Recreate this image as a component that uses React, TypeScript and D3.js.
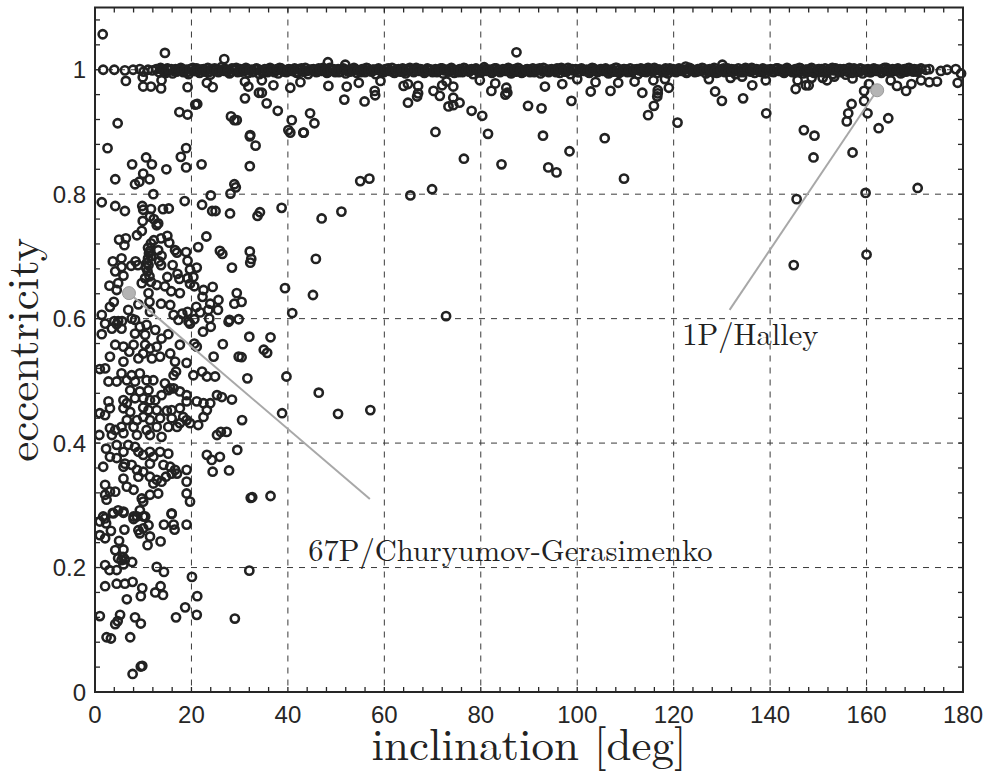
import React from "react";
import * as d3 from "d3";

const W = 990;
const H = 773;

const xTickValues = [0, 20, 40, 60, 80, 100, 120, 140, 160, 180];
const xTickLabels = ["0", "20", "40", "60", "80", "100", "120", "140", "160", "180"];
const yTickValues = [0, 0.2, 0.4, 0.6, 0.8, 1];
const yTickLabels = ["0", "0.2", "0.4", "0.6", "0.8", "1"];

// near-parabolic comets (band at e ~ 1)
const nearParabolic: [number, number][] = [
  [1.7,1.0],[4.0,1.0],[6.2,0.999],[7.9,1.0],[9.3,1.001],[10.1,0.997],[11.0,1.0],[11.9,0.999],[12.7,1.001],[13.3,0.996],
  [13.9,1.0],[14.4,0.997],[15.0,1.002],[15.5,0.999],[16.1,0.994],[16.7,1.001],[17.2,0.998],[17.8,1.003],[18.3,0.996],[18.9,1.0],
  [19.4,0.993],[20.0,1.001],[20.6,0.998],[21.1,1.002],[21.7,0.995],[22.3,1.0],[22.8,0.997],[23.4,1.003],[23.9,0.992],[24.5,0.999],
  [25.1,1.001],[25.6,0.996],[26.2,1.004],[26.8,0.998],[27.3,1.0],[27.9,0.994],[28.4,1.002],[29.0,0.999],[29.6,0.996],[30.1,1.001],
  [30.7,0.998],[31.3,1.003],[31.8,0.995],[32.4,1.0],[32.9,0.997],[33.5,1.002],[34.1,0.993],[34.6,0.999],[35.2,1.001],[35.8,0.996],
  [36.3,1.003],[36.9,0.998],[37.4,1.0],[38.0,0.994],[38.6,1.002],[39.1,0.999],[39.7,0.996],[40.2,1.001],[40.8,0.998],[41.4,1.002],
  [41.9,0.995],[42.5,1.0],[43.1,0.997],[43.6,1.003],[44.2,0.993],[44.7,0.999],[45.3,1.001],[45.9,0.996],[46.4,1.002],[47.0,0.998],
  [47.5,1.0],[48.1,0.995],[48.7,1.003],[49.2,0.999],[49.8,0.996],[50.4,1.001],[50.9,0.997],[51.5,1.002],[52.0,0.994],[52.6,1.0],
  [53.2,0.998],[53.7,1.003],[54.3,0.995],[54.8,0.999],[55.4,1.001],[56.0,0.996],[56.5,1.002],[57.1,0.998],[57.6,1.0],[58.2,0.993],
  [58.8,1.002],[59.3,0.999],[59.9,0.996],[60.5,1.001],[61.0,0.998],[61.6,1.003],[62.1,0.995],[62.7,1.0],[63.3,0.997],[63.8,1.002],
  [64.4,0.994],[64.9,0.999],[65.5,1.001],[66.1,0.996],[66.6,1.003],[67.2,0.998],[67.7,1.0],[68.3,0.995],[68.9,1.002],[69.4,0.999],
  [70.0,0.996],[70.6,1.001],[71.1,0.998],[71.7,1.002],[72.2,0.994],[72.8,1.0],[73.4,0.997],[73.9,1.003],[74.5,0.995],[75.0,0.999],
  [75.6,1.001],[76.2,0.996],[76.7,1.002],[77.3,0.998],[77.8,1.0],[78.4,0.993],[79.0,1.002],[79.5,0.999],[80.1,0.996],[80.7,1.004],
  [81.2,0.998],[81.8,1.0],[82.3,0.995],[82.9,1.002],[83.5,0.999],[84.0,0.996],[84.6,1.001],[85.1,0.998],[85.7,1.003],[86.3,0.994],
  [86.8,1.0],[87.4,0.997],[87.9,1.002],[88.5,0.995],[89.1,0.999],[89.6,1.001],[90.2,0.996],[90.8,1.002],[91.3,0.998],[91.9,1.0],
  [92.4,0.994],[93.0,1.003],[93.6,0.999],[94.1,0.996],[94.7,1.001],[95.2,0.998],[95.8,1.002],[96.4,0.995],[96.9,1.0],[97.5,0.997],
  [98.1,1.003],[98.6,0.993],[99.2,0.999],[99.7,1.001],[100.3,0.996],[100.9,1.002],[101.4,0.998],[102.0,1.0],[102.5,0.995],[103.1,1.003],
  [103.7,0.999],[104.2,0.996],[104.8,1.001],[105.3,0.998],[105.9,1.002],[106.5,0.994],[107.0,1.0],[107.6,0.997],[108.2,1.003],[108.7,0.995],
  [109.3,0.999],[109.8,1.001],[110.4,0.996],[111.0,1.002],[111.5,0.998],[112.1,1.0],[112.6,0.993],[113.2,1.002],[113.8,0.999],[114.3,0.996],
  [114.9,1.001],[115.4,0.998],[116.0,1.003],[116.6,0.995],[117.1,1.0],[117.7,0.997],[118.3,1.002],[118.8,0.994],[119.4,0.999],[119.9,1.001],
  [120.5,0.996],[121.1,1.002],[121.6,0.998],[122.2,1.0],[122.7,0.995],[123.3,1.003],[123.9,0.999],[124.4,0.996],[125.0,1.001],[125.5,0.998],
  [126.1,1.002],[126.7,0.994],[127.2,1.0],[127.8,0.997],[128.4,1.003],[128.9,0.995],[129.5,0.999],[130.0,1.001],[130.6,0.996],[131.2,1.002],
  [131.7,0.998],[132.3,1.0],[132.8,0.993],[133.4,1.002],[134.0,0.999],[134.5,0.996],[135.1,1.001],[135.6,0.998],[136.2,1.003],[136.8,0.995],
  [137.3,1.0],[137.9,0.997],[138.5,1.002],[139.0,0.994],[139.6,0.999],[140.1,1.001],[140.7,0.996],[141.3,1.002],[141.8,0.998],[142.4,1.0],
  [142.9,0.995],[143.5,1.003],[144.1,0.999],[144.6,0.996],[145.2,1.001],[145.7,0.998],[146.3,1.002],[146.9,0.994],[147.4,1.0],[148.0,0.997],
  [148.6,1.003],[149.1,0.995],[149.7,0.999],[150.2,1.001],[150.8,0.996],[151.4,1.002],[151.9,0.998],[152.5,1.0],[153.0,0.993],[153.6,1.002],
  [154.2,0.999],[154.7,0.996],[155.3,1.001],[155.8,0.998],[156.4,1.003],[157.0,0.995],[157.5,1.0],[158.1,0.997],[158.7,1.002],[159.2,0.994],
  [159.8,0.999],[160.3,1.001],[160.9,0.996],[161.5,1.002],[162.0,0.998],[162.6,1.0],[163.1,0.995],[163.7,1.003],[164.3,0.999],[164.8,0.996],
  [165.4,1.001],[165.9,0.998],[166.5,1.002],[167.1,0.994],[167.6,1.0],[168.2,0.997],[168.8,1.003],[169.3,0.999],[169.9,1.001],[170.5,0.997],
  [171.3,1.002],[172.3,1.0],[173.0,1.001],[175.4,0.998],[176.7,1.0],[178.5,1.001],[179.6,0.994],
];

// more near-parabolic comets filling the band
const nearParabolicDense: [number, number][] = [
  [13.6,1.003],[14.7,0.995],[15.8,1.001],[16.9,0.997],[18.0,1.0],[19.1,0.996],[20.3,1.003],[21.4,0.998],[22.5,1.001],[23.6,0.996],
  [24.8,1.002],[25.9,0.998],[27.0,1.001],[28.1,0.996],[29.3,1.003],[30.4,0.997],[31.5,1.0],[32.7,0.996],[33.8,1.001],[34.9,0.997],
  [36.0,1.0],[37.2,0.996],[38.3,1.003],[39.4,0.997],[40.5,1.0],[41.6,0.996],[42.8,1.002],[43.9,0.998],[45.0,1.0],[46.1,0.997],
  [47.3,1.003],[48.4,0.997],[49.5,1.001],[50.6,0.996],[51.8,1.0],[52.9,0.997],[54.0,1.001],[55.1,0.996],[56.3,1.003],[57.4,0.997],
  [58.5,1.0],[59.6,0.997],[60.8,1.002],[61.9,0.996],[63.0,1.001],[64.1,0.997],[65.3,1.003],[66.4,0.998],[67.5,1.001],[68.6,0.997],
  [69.7,1.0],[70.9,0.996],[72.0,1.002],[73.1,0.998],[74.2,1.0],[75.4,0.996],[76.5,1.003],[77.6,0.997],[78.7,1.0],[79.9,0.996],
  [81.0,1.001],[82.1,0.997],[83.2,1.002],[84.4,0.998],[85.5,1.0],[86.6,0.996],[87.7,1.003],[88.9,0.997],[90.0,1.0],[91.1,0.996],
  [92.2,1.002],[93.3,0.998],[94.5,1.0],[95.6,0.996],[96.7,1.003],[97.8,0.997],[99.0,1.001],[100.1,0.996],[101.2,1.0],[102.3,0.997],
  [103.4,1.002],[104.6,0.998],[105.7,1.0],[106.8,0.996],[107.9,1.003],[109.1,0.997],[110.2,1.0],[111.3,0.996],[112.4,1.001],[113.6,0.997],
  [114.7,1.003],[115.8,0.998],[116.9,1.0],[118.1,0.996],[119.2,1.002],[120.3,0.997],[121.4,1.0],[122.5,0.996],[123.7,1.001],[124.8,0.997],
  [125.9,1.003],[127.0,0.998],[128.2,1.0],[129.3,0.996],[130.4,1.002],[131.5,0.997],[132.7,1.0],[133.8,0.996],[134.9,1.003],[136.0,0.997],
  [137.2,1.001],[138.3,0.996],[139.4,1.0],[140.5,0.997],[141.6,1.002],[142.8,0.998],[143.9,1.0],[145.0,0.996],[146.1,1.003],[147.3,0.997],
  [148.4,1.0],[149.5,0.996],[150.6,1.001],[151.8,0.997],[152.9,1.003],[154.0,0.998],[155.1,1.0],[156.3,0.996],[157.4,1.002],[158.5,0.997],
  [159.6,1.0],[160.7,0.996],[161.9,1.001],[163.0,0.997],[164.1,1.003],[165.2,0.998],[166.4,1.0],[167.5,0.996],[168.6,1.002],[169.7,0.997],
  [170.8,1.0],
];

// still more near-parabolic comets in the band
const nearParabolicFill: [number, number][] = [
  [14.2,0.999],[15.3,1.001],[16.4,0.998],[17.5,1.0],[18.6,0.999],[19.7,1.001],[20.8,0.998],[21.9,1.0],[23.1,0.999],[24.2,1.001],
  [25.3,0.998],[26.5,1.0],[27.6,0.999],[28.7,1.001],[29.9,0.998],[31.0,1.0],[32.1,0.999],[33.2,1.001],[34.4,0.998],[35.5,1.0],
  [36.6,0.999],[37.8,1.001],[38.9,0.998],[40.0,1.0],[41.1,0.999],[42.2,1.001],[43.3,0.998],[44.5,1.0],[45.6,0.999],[46.7,1.001],
  [47.8,0.998],[49.0,1.0],[50.1,0.999],[51.2,1.001],[52.3,0.998],[53.5,1.0],[54.6,0.999],[55.7,1.001],[56.8,0.998],[57.9,1.0],
  [59.1,0.999],[60.2,1.001],[61.3,0.998],[62.4,1.0],[63.6,0.999],[64.7,1.001],[65.8,0.998],[66.9,1.0],[68.0,0.999],[69.2,1.001],
  [70.3,0.998],[71.4,1.0],[72.5,0.999],[73.7,1.001],[74.8,0.998],[75.9,1.0],[77.0,0.999],[78.1,1.001],[79.3,0.998],[80.4,1.0],
  [81.5,0.999],[82.6,1.001],[83.8,0.998],[84.9,1.0],[86.0,0.999],[87.1,1.001],[88.2,0.998],[89.4,1.0],[90.5,0.999],[91.6,1.001],
  [92.7,0.998],[93.9,1.0],[95.0,0.999],[96.1,1.001],[97.2,0.998],[98.3,1.0],[99.5,0.999],[100.6,1.001],[101.7,0.998],[102.8,1.0],
  [104.0,0.999],[105.1,1.001],[106.2,0.998],[107.3,1.0],[108.4,0.999],[109.6,1.001],[110.7,0.998],[111.8,1.0],[112.9,0.999],[114.1,1.001],
  [115.2,0.998],[116.3,1.0],[117.4,0.999],[118.5,1.001],[119.7,0.998],[120.8,1.0],[121.9,0.999],[123.0,1.001],[124.2,0.998],[125.3,1.0],
  [126.4,0.999],[127.5,1.001],[128.6,0.998],[129.8,1.0],[130.9,0.999],[132.0,1.001],[133.1,0.998],[134.3,1.0],[135.4,0.999],[136.5,1.001],
  [137.6,0.998],[138.7,1.0],[139.9,0.999],[141.0,1.001],[142.1,0.998],[143.2,1.0],[144.4,0.999],[145.5,1.001],[146.6,0.998],[147.7,1.0],
  [148.8,0.999],[150.0,1.001],[151.1,0.998],[152.2,1.0],[153.3,0.999],[154.5,1.001],[155.6,0.998],[156.7,1.0],[157.8,0.999],[158.9,1.001],
  [160.1,0.998],[161.2,1.0],[162.3,0.999],[163.4,1.001],[164.6,0.998],[165.7,1.0],[166.8,0.999],[167.9,1.001],[169.0,0.998],[170.2,1.0],
];

// high-eccentricity comets hanging below / above the band
const highEccentricity: [number, number][] = [
  [1.6,1.057],[14.5,1.027],[26.8,1.017],[48.3,1.012],[51.9,1.008],[87.4,1.028],[130.1,1.008],[122.5,1.005],
  [6.4,0.982],[10.0,0.973],[11.6,0.973],[9.9,0.988],[13.7,0.970],[13.8,0.983],[19.2,0.972],[23.2,0.979],[24.4,0.972],
  [20.8,0.944],[21.2,0.945],[17.5,0.932],[19.2,0.928],[4.7,0.914],[28.2,0.925],[28.9,0.919],
  [2.6,0.874],[18.9,0.874],[17.8,0.860],[10.6,0.859],[11.8,0.848],[7.7,0.848],[14.8,0.840],[18.9,0.843],[22.1,0.848],
  [10.0,0.833],[4.2,0.824],[8.3,0.816],[9.2,0.820],[11.3,0.824],[28.9,0.816],[29.2,0.811],[12.1,0.800],[28.1,0.801],[24.0,0.798],
  [29.4,0.919],[31.1,0.981],[31.8,0.973],[31.1,0.954],[34.0,0.963],[34.6,0.963],[35.6,0.946],[34.6,0.983],[37.0,0.975],
  [37.9,0.934],[32.2,0.895],[40.5,0.971],[40.8,0.919],[40.1,0.903],[40.5,0.899],[42.6,0.980],[43.2,0.899],[44.6,0.930],
  [45.5,0.914],[48.4,0.974],[52.2,0.973],[51.7,0.952],[54.7,0.979],[55.9,0.949],[58.0,0.966],[58.1,0.959],[59.2,0.982],
  [64.0,0.974],[64.9,0.977],[67.0,0.974],[67.0,0.962],[66.8,0.957],[64.9,0.947],[70.2,0.966],[70.6,0.900],
  [32.1,0.893],[33.3,0.878],[32.1,0.845],[43.3,0.899],[55.0,0.821],[56.9,0.825],[65.4,0.798],[69.9,0.808],
  [71.5,0.958],[72.0,0.975],[72.9,0.981],[74.3,0.973],[74.3,0.955],[73.3,0.941],[74.3,0.943],[75.6,0.947],[78.1,0.934],
  [76.5,0.857],[80.3,0.926],[81.5,0.897],[79.8,0.983],[82.2,0.966],[83.0,0.978],[85.1,0.960],[85.5,0.963],[85.3,0.971],
  [84.3,0.848],[89.8,0.942],[92.6,0.938],[93.3,0.973],[92.9,0.894],[94.0,0.843],[95.7,0.835],[96.9,0.977],[98.4,0.869],
  [98.8,0.950],[100.0,0.985],[102.8,0.965],[103.8,0.980],[105.7,0.890],[106.9,0.966],[108.5,0.979],[109.7,0.825],
  [111.9,0.981],[113.5,0.963],[115.8,0.983],[116.7,0.967],[116.7,0.962],[116.6,0.957],[115.9,0.942],[114.7,0.927],
  [118.2,0.985],[119.0,0.971],[120.8,0.915],[127.3,0.985],[128.6,0.965],[130.0,0.950],[131.8,0.987],[134.2,0.989],
  [134.4,0.954],[136.3,0.975],[139.1,0.983],[139.2,0.930],[145.3,0.969],[145.7,0.983],[147.4,0.975],[148.0,0.975],
  [148.6,0.987],[150.9,0.987],[147.0,0.903],[149.2,0.894],[149.0,0.859],[145.5,0.792],
  [151.8,0.983],[153.3,0.989],[155.7,0.992],[157.1,0.986],[159.5,0.966],[160.5,0.977],[156.9,0.945],[156.2,0.930],
  [155.9,0.917],[159.5,0.950],[160.2,0.930],[157.1,0.867],[162.5,0.906],[164.5,0.922],[159.8,0.802],[170.6,0.810],
  [165.0,0.983],[166.3,0.974],[168.2,0.966],[169.3,0.977],[171.3,0.983],[173.0,0.980],[174.6,0.981],[178.9,0.979],
];

// scattered moderate-eccentricity comets beyond ~29 deg
const scattered: [number, number][] = [
  [72.8,0.604],[144.9,0.686],[160.0,0.703],
  [33.7,0.765],[34.2,0.771],[38.7,0.778],[47.0,0.761],[51.1,0.772],[32.1,0.708],[32.4,0.696],[32.2,0.690],
  [45.8,0.696],[39.4,0.649],[45.2,0.638],[30.4,0.627],[40.9,0.609],[32.0,0.571],[36.4,0.570],[35.0,0.550],
  [35.7,0.545],[30.4,0.538],[31.6,0.504],[39.7,0.507],[46.4,0.481],[38.8,0.448],[50.4,0.447],[57.1,0.453],
  [30.5,0.437],[32.3,0.312],[32.6,0.313],[36.4,0.315],[32.0,0.195],
];

// Jupiter-family comets (low inclination, e < 0.8)
const jupiterFamilyUpper: [number, number][] = [
  [1.4,0.787],[4.2,0.781],[6.2,0.773],[9.8,0.781],[10.0,0.775],[11.6,0.776],[14.1,0.776],[15.3,0.777],[18.6,0.789],
  [22.2,0.783],[24.3,0.773],[25.0,0.773],[28.0,0.769],[9.9,0.757],[11.4,0.764],[12.2,0.760],[12.8,0.750],[13.1,0.753],
  [5.0,0.727],[6.4,0.729],[6.1,0.718],[8.7,0.734],[9.7,0.741],[11.6,0.721],[12.2,0.726],[13.7,0.729],[15.0,0.733],
  [15.4,0.722],[23.1,0.732],[11.0,0.714],[11.2,0.705],[11.0,0.697],[10.8,0.690],[10.6,0.682],[10.9,0.676],[11.3,0.668],
  [11.6,0.700],[10.4,0.665],[11.4,0.709],[11.1,0.686],
  [13.1,0.710],[13.8,0.701],[13.3,0.692],[16.6,0.710],[17.0,0.706],[18.9,0.707],[21.4,0.715],[25.9,0.709],[26.4,0.704],
  [3.7,0.692],[5.5,0.697],[5.5,0.683],[4.2,0.676],[5.9,0.669],[7.5,0.685],[8.4,0.692],[8.9,0.686],[13.7,0.686],
  [16.1,0.686],[19.2,0.693],[19.7,0.679],[21.1,0.682],[28.4,0.682],[4.8,0.657],[3.0,0.653],[4.5,0.646],[9.7,0.657],
  [11.6,0.659],[12.8,0.654],[15.0,0.667],[17.1,0.672],[17.5,0.664],[19.2,0.665],[20.4,0.667],[19.7,0.656],[20.6,0.652],
  [14.5,0.652],[15.8,0.644],[17.6,0.641],[22.5,0.646],[24.4,0.651],[22.3,0.635],[23.9,0.624],[25.6,0.630],[29.4,0.641],
  [28.9,0.624],[11.1,0.641],[11.3,0.627],[13.7,0.624],[15.6,0.622],[3.9,0.627],[3.1,0.619],[6.9,0.614],[9.0,0.623],
  [11.4,0.611],[16.3,0.606],[18.1,0.608],[19.2,0.611],[21.0,0.619],[21.8,0.610],[20.6,0.599],[23.5,0.614],[23.7,0.600],
  [25.5,0.614],[27.9,0.598],[29.8,0.599],[1.4,0.606],[2.1,0.592],[4.0,0.596],[4.8,0.596],[5.6,0.596],[7.6,0.600],
  [8.3,0.598],[17.3,0.598],[19.4,0.595],
];

const jupiterFamilyMiddle: [number, number][] = [
  [1.4,0.575],[3.5,0.584],[4.5,0.591],[5.5,0.584],[8.3,0.576],[9.3,0.587],[10.4,0.574],[10.7,0.590],[12.5,0.582],
  [13.8,0.568],[15.2,0.575],[17.6,0.558],[19.7,0.592],[20.6,0.560],[21.1,0.555],[22.4,0.579],[24.0,0.587],[26.5,0.559],
  [24.6,0.539],[27.7,0.595],[29.8,0.539],[1.0,0.519],[2.1,0.520],[3.1,0.539],[4.2,0.558],[5.9,0.555],[5.9,0.531],
  [7.1,0.547],[8.0,0.558],[9.0,0.536],[10.0,0.544],[10.4,0.558],[11.4,0.552],[11.8,0.536],[12.8,0.555],[13.5,0.539],
  [15.6,0.544],[16.6,0.531],[16.8,0.515],[19.0,0.529],[20.4,0.509],[22.2,0.515],[23.2,0.507],[24.9,0.507],[2.8,0.499],
  [4.5,0.499],[5.5,0.512],[6.6,0.501],[7.6,0.509],[8.3,0.499],[9.3,0.512],[10.7,0.501],[12.1,0.501],[14.5,0.496],
  [16.3,0.509],[16.3,0.488],[15.2,0.485],[17.6,0.483],[19.0,0.477],[7.3,0.485],[9.3,0.483],[11.1,0.485],[8.3,0.472],
  [10.0,0.472],[11.4,0.469],[12.5,0.469],[13.8,0.477],[15.6,0.488],[5.9,0.469],[6.6,0.464],[2.8,0.467],[3.1,0.456],
  [1.0,0.448],[2.1,0.445],[5.9,0.456],[7.3,0.450],[10.0,0.457],[11.1,0.453],[12.8,0.453],[14.9,0.452],[15.9,0.453],
  [17.6,0.456],[19.0,0.467],[21.1,0.467],[22.5,0.464],[23.2,0.453],[23.9,0.464],[25.3,0.477],[26.3,0.474],[28.4,0.470],
  [22.5,0.442],[21.4,0.429],[19.7,0.432],[18.3,0.442],[17.6,0.432],[15.9,0.440],[13.5,0.440],[12.8,0.426],[11.4,0.437],
  [10.0,0.442],[8.7,0.437],[8.0,0.426],[6.6,0.437],[5.5,0.426],[4.2,0.421],[3.1,0.424],[0.9,0.413],[3.5,0.413],
  [5.9,0.416],[8.7,0.413],[10.7,0.421],[11.4,0.413],[13.8,0.410],[15.2,0.426],[17.0,0.426],[19.0,0.437],[25.3,0.413],
  [26.1,0.418],[27.3,0.418],
];

const jupiterFamilyLower: [number, number][] = [
  [29.5,0.389],[23.2,0.381],[24.2,0.373],[25.9,0.378],[24.4,0.354],[27.8,0.356],[2.3,0.391],[3.1,0.378],[4.5,0.397],
  [4.5,0.376],[5.9,0.386],[6.2,0.367],[6.9,0.397],[8.3,0.394],[9.0,0.386],[10.0,0.381],[11.4,0.386],[12.1,0.378],
  [13.5,0.386],[15.2,0.383],[14.2,0.365],[15.6,0.362],[16.6,0.357],[15.9,0.351],[17.0,0.351],[19.0,0.357],[19.0,0.338],
  [19.0,0.319],[19.7,0.306],[1.7,0.362],[5.9,0.362],[7.6,0.365],[8.7,0.357],[10.0,0.354],[11.4,0.367],[9.0,0.346],
  [11.4,0.346],[12.1,0.335],[12.8,0.341],[13.8,0.338],[14.7,0.346],[2.1,0.333],[3.1,0.322],[4.2,0.322],[2.1,0.317],
  [2.4,0.309],[5.9,0.343],[6.6,0.330],[8.0,0.325],[9.7,0.311],[10.0,0.306],[11.4,0.317],[13.1,0.319],[4.8,0.292],
  [5.9,0.290],[1.7,0.282],[3.8,0.287],[8.0,0.282],[9.3,0.292],[10.0,0.282],[15.9,0.287],
  [1.0,0.274],[2.1,0.279],[2.3,0.271],[1.0,0.252],[2.1,0.247],[3.3,0.259],[3.7,0.288],[5.9,0.288],[6.1,0.261],
  [8.0,0.278],[8.7,0.282],[9.0,0.260],[9.3,0.255],[10.0,0.263],[10.4,0.282],[11.1,0.268],[11.4,0.250],[10.9,0.236],
  [13.6,0.242],[14.3,0.269],[15.9,0.286],[16.3,0.269],[16.5,0.261],[19.0,0.269],[5.0,0.243],[4.2,0.228],[5.9,0.229],
  [4.8,0.215],[5.5,0.212],[5.9,0.205],[6.2,0.213],[5.8,0.217],[4.5,0.196],[7.7,0.209],[2.1,0.204],[3.0,0.196],
  [12.8,0.201],[14.3,0.193],[20.1,0.185],[2.1,0.170],[4.5,0.174],[6.2,0.174],[7.8,0.177],[9.8,0.167],[13.6,0.170],
  [12.5,0.160],[14.1,0.156],[6.6,0.149],[9.5,0.154],[21.2,0.154],[18.7,0.136],[1.0,0.122],[4.2,0.109],[4.7,0.114],
  [5.2,0.124],[8.3,0.120],[9.5,0.110],[16.8,0.120],[21.1,0.124],[29.0,0.118],[2.4,0.088],[3.3,0.086],[7.3,0.088],
  [7.8,0.029],[9.5,0.041],[9.8,0.042],
];

const highlighted = [
  { name: "67P/Churyumov-Gerasimenko", inc: 7.04, ecc: 0.641 },
  { name: "1P/Halley", inc: 162.2, ecc: 0.967 },
];
// label anchor positions (layout, in data units)
const labelLayout = [
  { lineEnd: [57.0, 0.31], textAt: [44.2, 0.211] },
  { lineEnd: [131.6, 0.614], textAt: [121.8, 0.557] },
];

export default function App() {
  const left = 95, right = 963, top = 7.5, bottom = 692;
  const x = d3.scaleLinear().domain([0, 180]).range([left, right]);
  const y = d3.scaleLinear().domain([0, 1.1]).range([bottom, top]);
  const axisColor = "#262626";
  const xMinor = d3.range(0, 181, 4);
  const yMinor = d3.range(0, 1.1, 0.04);
  const tickLen = 5;
  const all = [
    ...nearParabolic,
    ...nearParabolicDense,
    ...nearParabolicFill,
    ...highEccentricity,
    ...scattered,
    ...jupiterFamilyUpper,
    ...jupiterFamilyMiddle,
    ...jupiterFamilyLower,
  ];
  const serif = "'Latin Modern Roman','CMU Serif','Liberation Serif','DejaVu Serif',serif";
  const sans = "'Liberation Sans',Arial,Helvetica,sans-serif";
  return (
    <svg width={W} height={H} style={{ position: "absolute", left: 0, top: 0, background: "#fff" }}>
      <rect x={0} y={0} width={W} height={H} fill="#fff" />
      {/* grid */}
      <g stroke="#3a3a3a" strokeWidth={1} strokeDasharray="6,6">
        {xTickValues.filter((v) => v > 0 && v < 180).map((v) => (
          <line key={"gx" + v} x1={x(v)} x2={x(v)} y1={top} y2={bottom} />
        ))}
        {yTickValues.filter((v) => v > 0).map((v) => (
          <line key={"gy" + v} x1={left} x2={right} y1={y(v)} y2={y(v)} />
        ))}
      </g>
      {/* ticks */}
      <g stroke={axisColor} strokeWidth={1.3}>
        {xMinor.map((v) => (
          <g key={"tx" + v}>
            <line x1={x(v)} x2={x(v)} y1={bottom} y2={bottom - tickLen} />
            <line x1={x(v)} x2={x(v)} y1={top} y2={top + tickLen} />
          </g>
        ))}
        {yMinor.map((v) => (
          <g key={"ty" + v}>
            <line x1={left} x2={left + tickLen} y1={y(v)} y2={y(v)} />
            <line x1={right} x2={right - tickLen} y1={y(v)} y2={y(v)} />
          </g>
        ))}
      </g>
      {/* points */}
      <g fill="none" stroke="#222" strokeWidth={2.6}>
        {all.map((d, i) => (
          <circle key={i} cx={x(d[0])} cy={y(d[1])} r={4.1} />
        ))}
      </g>
      {/* annotations */}
      {highlighted.map((h, i) => (
        <g key={h.name}>
          <line
            x1={x(h.inc)} y1={y(h.ecc)}
            x2={x(labelLayout[i].lineEnd[0])} y2={y(labelLayout[i].lineEnd[1])}
            stroke="#a8a8a8" strokeWidth={2}
          />
          <circle cx={x(h.inc)} cy={y(h.ecc)} r={6.5} fill="#b4b4b4" stroke="#9a9a9a" strokeWidth={1} />
          <text x={x(labelLayout[i].textAt[0])} y={y(labelLayout[i].textAt[1])}
            fontFamily={serif} fontSize={30.5} fill="#222">{h.name}</text>
        </g>
      ))}
      {/* box */}
      <rect x={left} y={top} width={right - left} height={bottom - top} fill="none" stroke={axisColor} strokeWidth={2} />
      {/* tick labels */}
      <g fontFamily={sans} fontSize={24} fill={axisColor}>
        {xTickValues.map((v, i) => (
          <text key={"lx" + v} x={x(v)} y={bottom + 31} textAnchor="middle">{xTickLabels[i]}</text>
        ))}
        {yTickValues.map((v, i) => (
          <text key={"ly" + v} x={left - 9} y={y(v) + 8.5} textAnchor="end">{yTickLabels[i]}</text>
        ))}
      </g>
      {/* axis titles */}
      <text x={(left + right) / 2} y={760} textAnchor="middle" fontFamily={serif} fontSize={45} fill="#222">
        inclination [deg]
      </text>
      <text transform={`translate(38,${(top + bottom) / 2}) rotate(-90)`} textAnchor="middle"
        fontFamily={serif} fontSize={45} fill="#222">
        eccentricity
      </text>
    </svg>
  );
}
